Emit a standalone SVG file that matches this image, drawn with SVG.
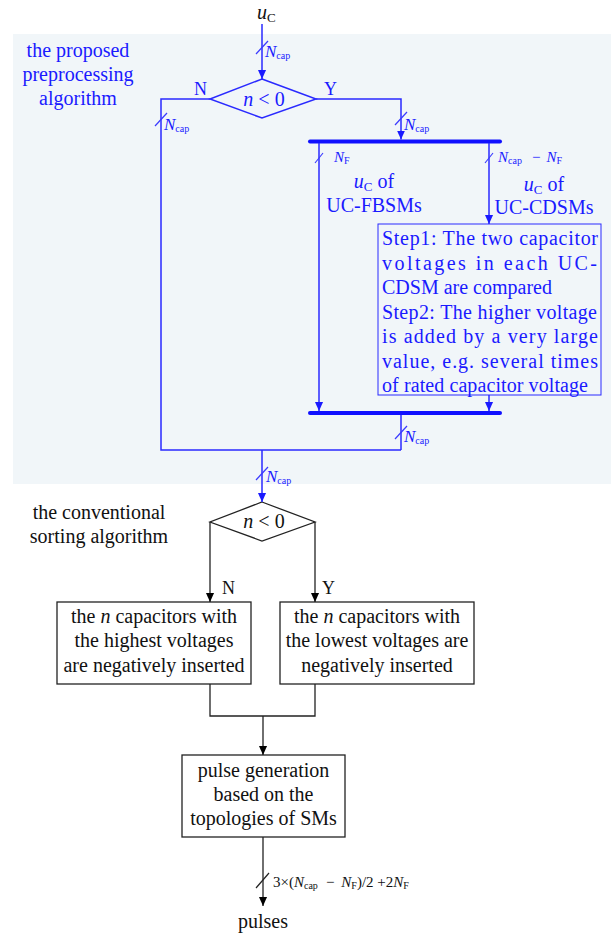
<svg xmlns="http://www.w3.org/2000/svg" width="613" height="933" viewBox="0 0 613 933">
<defs>
<marker id="ab" viewBox="0 0 10 10" refX="10" refY="5" markerWidth="9" markerHeight="9" markerUnits="userSpaceOnUse" orient="auto"><path d="M0,0.5 L10,5 L0,9.5 z" fill="#1a1aff"/></marker>
<marker id="ak" viewBox="0 0 10 10" refX="10" refY="5" markerWidth="9" markerHeight="9" markerUnits="userSpaceOnUse" orient="auto"><path d="M0,0.5 L10,5 L0,9.5 z" fill="#000"/></marker>
<style>
text{font-family:"Liberation Serif","Times New Roman",serif;}
.b{fill:#1a1aff;}
.k{fill:#111;}
.t20{font-size:20px;}
.t18{font-size:18px;}
.lb{stroke:#2a2aff;stroke-width:1.5;fill:none;}
.lk{stroke:#222;stroke-width:1.3;fill:none;}
.bar{stroke:#1010ff;stroke-width:4;stroke-linecap:round;}
.sl{stroke:#3a3aff;stroke-width:1.2;}
.slk{stroke:#222;stroke-width:1.2;}
.lbl{font-size:17px;font-style:italic;}
.sub{font-size:10px;font-style:normal;}
</style>
</defs>
<rect x="13" y="34" width="598" height="450" fill="#f1f6f9"/>

<g id="title-proposed" class="b t20" text-anchor="middle">
<text x="78" y="57">the proposed</text>
<text x="78" y="81">preprocessing</text>
<text x="78" y="105">algorithm</text>
</g>

<g id="input-uc"><text x="257" y="19" class="k t20" font-style="italic">u<tspan font-size="13" font-style="normal" dy="3">C</tspan></text></g>

<g id="decision-1">
<path d="M262,79 L316,99 L262,118 L210,99 Z" class="lb"/>
<text x="264" y="106" text-anchor="middle" class="b t20"><tspan font-style="italic">n</tspan> &lt; 0</text>
</g>

<g id="bar-split"><line x1="310" y1="141.5" x2="500" y2="141.5" class="bar"/></g>
<g id="bar-merge"><line x1="310" y1="413" x2="500" y2="413" class="bar"/></g>

<g id="label-fbsm" class="b t20" text-anchor="middle">
<text x="374" y="188"><tspan font-style="italic">u</tspan><tspan font-size="13" dy="3">C</tspan><tspan dy="-3"> of</tspan></text>
<text x="374" y="212">UC-FBSMs</text>
</g>
<g id="label-cdsm" class="b t20" text-anchor="middle">
<text x="544" y="191"><tspan font-style="italic">u</tspan><tspan font-size="13" dy="3">C</tspan><tspan dy="-3"> of</tspan></text>
<text x="544" y="214">UC-CDSMs</text>
</g>

<g id="step-box">
<rect x="378" y="224" width="223" height="171" fill="none" stroke="#2a2aff" stroke-width="1"/>
<g class="b t20">
<text x="382" y="245" textLength="216" lengthAdjust="spacing">Step1: The two capacitor</text>
<text x="382" y="269.5" textLength="215" lengthAdjust="spacing">voltages in each UC-</text>
<text x="382" y="294">CDSM are compared</text>
<text x="382" y="318.5" textLength="215" lengthAdjust="spacing">Step2: The higher voltage</text>
<text x="382" y="343" textLength="216" lengthAdjust="spacing">is added by a very large</text>
<text x="382" y="367.5" textLength="216" lengthAdjust="spacing">value, e.g. several times</text>
<text x="382" y="392" textLength="206" lengthAdjust="spacing">of rated capacitor voltage</text>
</g>
</g>

<g id="title-conventional" class="k t20" text-anchor="middle">
<text x="99" y="519">the conventional</text>
<text x="99" y="543">sorting algorithm</text>
</g>

<g id="decision-2">
<path d="M262,502 L315,522 L262,541 L210,522 Z" class="lk"/>
<text x="264" y="528" text-anchor="middle" class="k t20"><tspan font-style="italic">n</tspan> &lt; 0</text>
</g>

<g id="box-highest">
<rect x="57" y="602" width="194" height="82" fill="#fff" stroke="#222" stroke-width="1.3"/>
<g class="k t20" text-anchor="middle">
<text x="154" y="623">the <tspan font-style="italic">n</tspan> capacitors with</text>
<text x="154" y="647">the highest voltages</text>
<text x="154" y="672">are negatively inserted</text>
</g>
</g>

<g id="box-lowest">
<rect x="280" y="602" width="194" height="82" fill="#fff" stroke="#222" stroke-width="1.3"/>
<g class="k t20" text-anchor="middle">
<text x="377" y="623">the <tspan font-style="italic">n</tspan> capacitors with</text>
<text x="377" y="647">the lowest voltages are</text>
<text x="377" y="672">negatively inserted</text>
</g>
</g>

<g id="box-pulse">
<rect x="182" y="755" width="163" height="82" fill="#fff" stroke="#222" stroke-width="1.3"/>
<g class="k t20" text-anchor="middle">
<text x="263.5" y="777">pulse generation</text>
<text x="263.5" y="801">based on the</text>
<text x="263.5" y="825">topologies of SMs</text>
</g>
</g>

<g id="output-pulses"><text x="263" y="928" text-anchor="middle" class="k t20">pulses</text></g>

<g id="connectors">
<line x1="262" y1="24" x2="262" y2="79" class="lb" marker-end="url(#ab)"/>
<line x1="256" y1="54" x2="268" y2="41" class="sl"/>
<text x="265" y="57" class="b lbl">N<tspan class="sub" dy="2">cap</tspan></text>
<text x="194" y="95" class="b t18">N</text>
<text x="324" y="95" class="b t18">Y</text>
<polyline points="210,99 161,99 161,450 401,450" class="lb"/>
<line x1="155" y1="126" x2="167" y2="113" class="sl"/>
<text x="164" y="130" class="b lbl">N<tspan class="sub" dy="2">cap</tspan></text>
<polyline points="316,99 401,99 401,139.5" class="lb" marker-end="url(#ab)"/>
<line x1="395" y1="125" x2="407" y2="112" class="sl"/>
<text x="404" y="130" class="b lbl">N<tspan class="sub" dy="2">cap</tspan></text>
<line x1="319" y1="143" x2="319" y2="411" class="lb" marker-end="url(#ab)"/>
<line x1="315" y1="163" x2="323" y2="153" class="sl"/>
<text x="334" y="162" class="b" font-size="15" font-style="italic">N<tspan font-size="10" font-style="normal" dy="2">F</tspan></text>
<line x1="489" y1="143" x2="489" y2="224" class="lb" marker-end="url(#ab)"/>
<line x1="485" y1="163" x2="493" y2="153" class="sl"/>
<text x="498" y="162" class="b" font-size="15" font-style="italic">N<tspan font-size="10" font-style="normal" dy="2">cap</tspan><tspan font-style="normal" dx="10" dy="-2">−</tspan><tspan dx="6">N</tspan><tspan font-size="10" font-style="normal" dy="2">F</tspan></text>
<line x1="489" y1="395" x2="489" y2="411" class="lb" marker-end="url(#ab)"/>
<line x1="401" y1="415" x2="401" y2="450" class="lb"/>
<line x1="395" y1="439" x2="407" y2="426" class="sl"/>
<text x="404" y="442" class="b lbl">N<tspan class="sub" dy="2">cap</tspan></text>
<line x1="262" y1="450" x2="262" y2="502" class="lb" marker-end="url(#ab)"/>
<line x1="256" y1="480" x2="268" y2="467" class="sl"/>
<text x="266" y="482" class="b lbl">N<tspan class="sub" dy="2">cap</tspan></text>
<polyline points="210,522 210,602" class="lk" marker-end="url(#ak)"/>
<text x="222" y="594" class="k t18">N</text>
<polyline points="315,522 315,602" class="lk" marker-end="url(#ak)"/>
<text x="322" y="594" class="k t18">Y</text>
<polyline points="210,684 210,716 315,716 315,684" class="lk"/>
<line x1="263" y1="716" x2="263" y2="755" class="lk" marker-end="url(#ak)"/>
<line x1="263" y1="837" x2="263" y2="906" class="lk" marker-end="url(#ak)"/>
<line x1="256" y1="888" x2="269" y2="873" class="slk"/>
<text x="273" y="887" class="k" font-size="15">3×(<tspan font-style="italic">N</tspan><tspan font-size="10" dy="2">cap</tspan><tspan dx="8" dy="-2">−</tspan><tspan dx="7" font-style="italic">N</tspan><tspan font-size="10" dy="2">F</tspan><tspan dy="-2">)/2 +2</tspan><tspan font-style="italic">N</tspan><tspan font-size="10" dy="2">F</tspan></text>
</g>
</svg>
